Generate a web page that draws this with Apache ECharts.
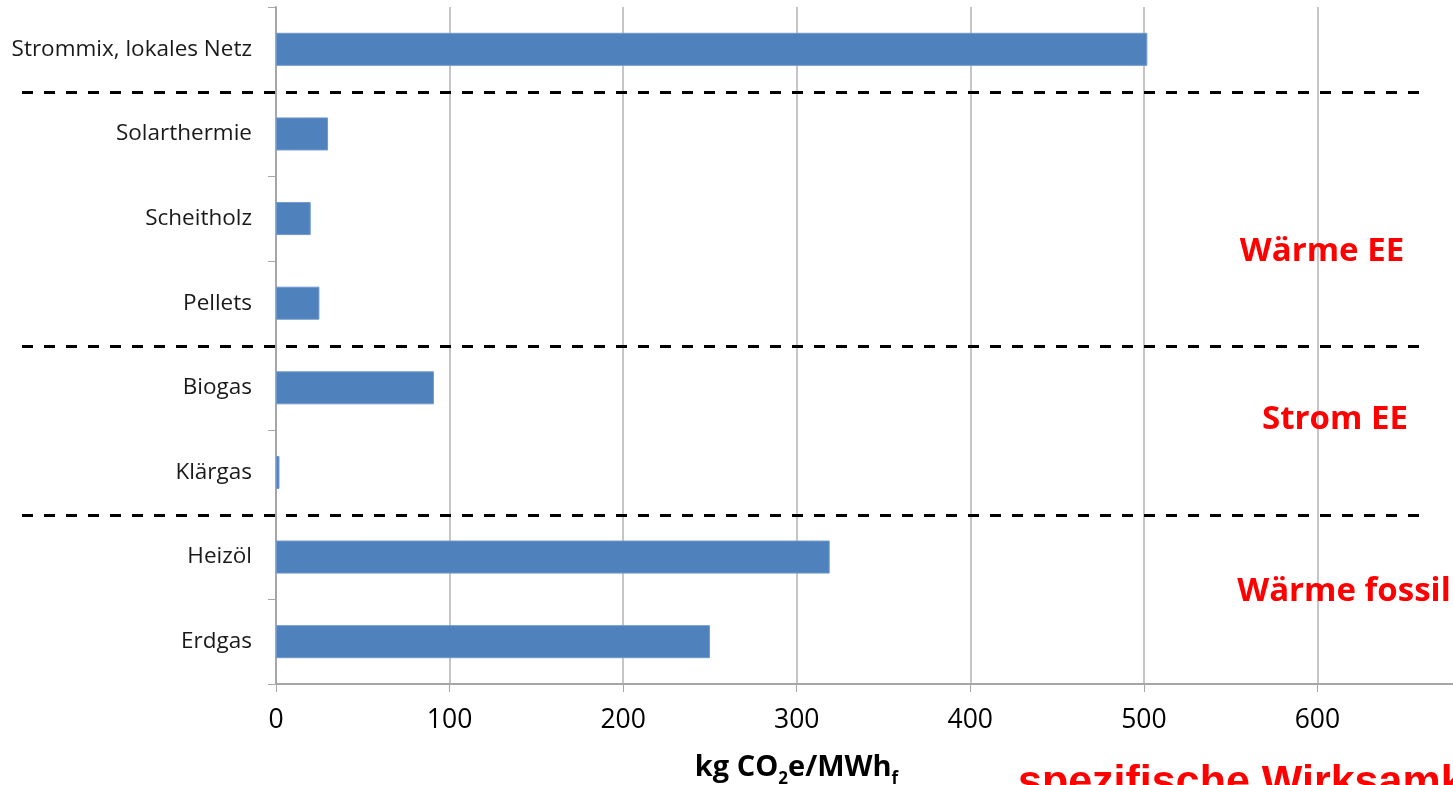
<!DOCTYPE html>
<html>
<head>
<meta charset="utf-8">
<title>Emissionsfaktoren</title>
<script src="https://cdn.jsdelivr.net/npm/echarts@6/dist/echarts.min.js"></script>
<style>
  html, body { margin: 0; padding: 0; background: #fff; }
  #chart { width: 1453px; height: 785px; }
</style>
</head>
<body>
<div id="chart"></div>
<script>
// Energieträger (von oben nach unten)
const categories = [
  'Strommix, lokales Netz',
  'Solarthermie',
  'Scheitholz',
  'Pellets',
  'Biogas',
  'Klärgas',
  'Heizöl',
  'Erdgas'
];

// spezifische Emissionen in kg CO2e/MWh_f
const emissions = [502, 30, 20, 25, 91, 2, 319, 250];

// Gruppentrennlinien: jeweils zwischen diesen beiden Kategorien
const groupBreaks = [
  ['Strommix, lokales Netz', 'Solarthermie'],
  ['Pellets', 'Biogas'],
  ['Klärgas', 'Heizöl']
];

// Gruppenbeschriftungen
const groupLabels = ['Wärme EE', 'Strom EE', 'Wärme fossil'];
const footerText = 'spezifische Wirksamk';

const sansFont = '"Open Sans", "Noto Sans", "DejaVu Sans", sans-serif';

const chart = echarts.init(document.getElementById('chart'), null, { renderer: 'canvas' });

chart.setOption({
  animation: false,
  backgroundColor: '#ffffff',
  grid: { left: 276, top: 7, bottom: 101, right: -38, containLabel: false, outerBoundsMode: 'none' },
  xAxis: {
    type: 'value',
    min: 0,
    max: 700,
    interval: 100,
    name: '{a|kg CO}{s|2}{a|e/MWh}{s|f}',
    nameLocation: 'middle',
    nameGap: 60,
    nameTextStyle: {
      padding: [0, 174, 0, 0],
      rich: {
        a: { fontFamily: sansFont, fontSize: 29, fontWeight: 'bold', color: '#000', lineHeight: 38, verticalAlign: 'bottom' },
        s: { fontFamily: sansFont, fontSize: 17, fontWeight: 'bold', color: '#000', lineHeight: 38, verticalAlign: 'bottom', padding: [0, 0, -6, 0] }
      }
    },
    axisLine: { show: true, lineStyle: { color: '#a6a6a6', width: 2 } },
    axisTick: { show: true, length: 8, lineStyle: { color: '#a6a6a6', width: 1 } },
    axisLabel: { fontFamily: sansFont, fontSize: 26.5, color: '#000', margin: 23 },
    splitLine: { show: true, lineStyle: { color: '#b3b3b3', width: 1.5 } }
  },
  yAxis: {
    type: 'category',
    inverse: true,
    data: categories,
    axisLine: { show: true, lineStyle: { color: '#a6a6a6', width: 2 } },
    axisTick: { show: true, length: 8, lineStyle: { color: '#a6a6a6', width: 1 } },
    axisLabel: { fontFamily: sansFont, fontSize: 22.5, color: '#1a1a1a', margin: 24 },
    splitLine: { show: false }
  },
  series: [{
    type: 'bar',
    data: emissions,
    barWidth: '39%',
    itemStyle: { color: '#4f81bd', borderColor: '#6f98cc', borderWidth: 1 }
  }]
});

// Trennlinien und Gruppenbeschriftungen über die Achsenskala positionieren
function yOf(name) {
  return chart.convertToPixel({ yAxisIndex: 0 }, name);
}

const graphics = [];
groupBreaks.forEach(function (pair) {
  const y = Math.round((yOf(pair[0]) + yOf(pair[1])) / 2) + 0.5;
  graphics.push({
    type: 'line',
    shape: { x1: 22, y1: y, x2: 1422, y2: y },
    style: { stroke: '#000', lineWidth: 3, lineDash: [11, 11] },
    z: 10
  });
});

const labelPos = [
  { x: 1322, y: 252 },
  { x: 1335, y: 420 },
  { x: 1344, y: 592 }
];
groupLabels.forEach(function (txt, i) {
  graphics.push({
    type: 'text',
    x: labelPos[i].x,
    y: labelPos[i].y,
    style: {
      text: txt,
      fill: '#ff0000',
      font: 'bold 33px ' + sansFont,
      align: 'center',
      verticalAlign: 'middle'
    },
    z: 10
  });
});

graphics.push({
  type: 'text',
  x: 1018,
  y: 762,
  style: {
    text: footerText,
    fill: '#ff0000',
    font: 'bold 43px "Liberation Sans", Arial, sans-serif',
    align: 'left',
    verticalAlign: 'top'
  },
  z: 10
});

chart.setOption({ graphic: graphics });
</script>
</body>
</html>
